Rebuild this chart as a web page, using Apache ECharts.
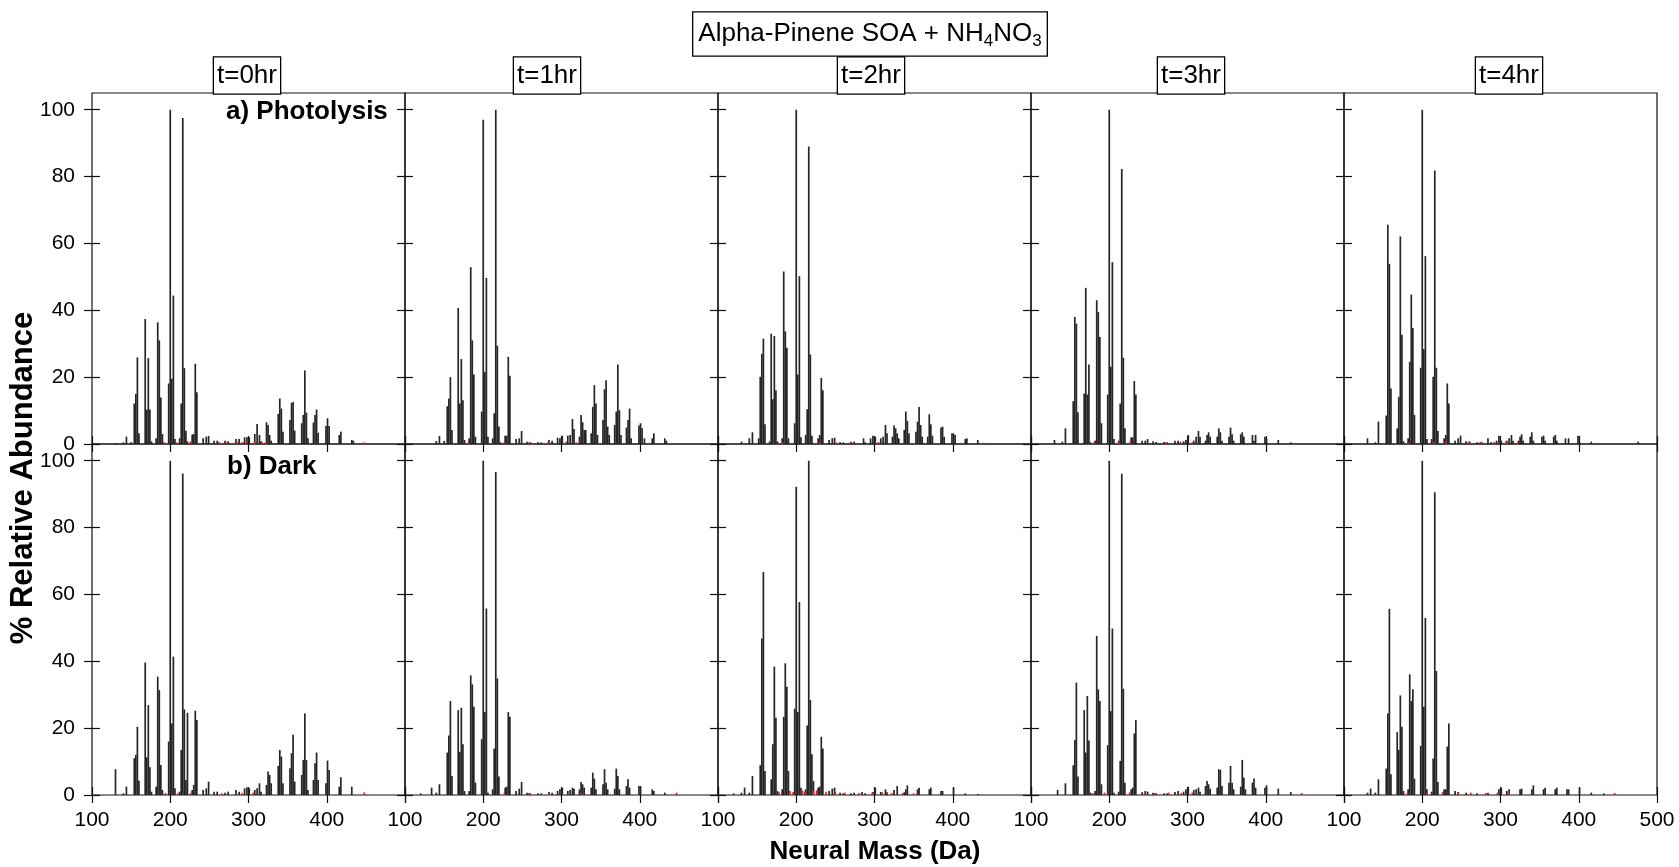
<!DOCTYPE html>
<html><head><meta charset="utf-8">
<script src="https://cdn.jsdelivr.net/npm/echarts@6/dist/echarts.min.js"></script>
<style>html,body{margin:0;padding:0;background:#fff}#c{width:1679px;height:867px}</style>
</head><body><div id="c"></div>
<script>
// ---------------- DATA ----------------
const timeLabels = ['t=0hr', 't=1hr', 't=2hr', 't=3hr', 't=4hr'];
const rowLabels = ['a) Photolysis', 'b) Dark'];
const xTickValues = [100, 200, 300, 400, 500];
const yTickValues = [0, 20, 40, 60, 80, 100];

const photolysis_t0 = [[130,0.3],[140,0.5],[144,2.2],[150,0.5],[154,12.1],[156,15],[158,25.9],[160,3.2],
[168,37.4],[170,10.3],[172,25.7],[174,10.3],[176,0.8],[182,1.7],[184,36.4],[186,31],[188,13.9],[190,3],
[198,18.1],[200,100],[202,19.5],[204,44.4],[206,1.5],[212,1.7],[214,12.1],[216,97.5],[218,22.7],[220,4],[222,0.8],
[228,2.8],[230,3],[232,24],[234,15.5],[242,1.7],[246,2.2],[249,2.4],[256,1],[260,1],[270,1],[274,0.8],[284,1.5],[288,1.5],
[295,2],[298,2],[301,2],[308,3],[311,6],[314,2.7],[316,0.8],[323,6.5],[325,5.7],[327,2.7],[329,1],
[338,9],[340,13.6],[342,10.6],[344,3.7],[353,7.2],[355,12.3],[357,12.6],[359,4],
[368,6.2],[370,8.7],[372,22],[374,9.4],[376,1.7],[383,6.4],[385,8.7],[387,10.3],[389,3.4],
[399,5.4],[401,7.7],[403,5.4],[416,2.7],[418,3.7],[432,1.2],[434,1]];

const photolysis_t1 = [[140,0.9],[144,2.4],[150,0.9],[154,11.3],[156,13.6],[158,20],[160,4.2],
[168,40.7],[170,12.1],[172,25.4],[174,13.1],[176,1.2],[182,1.7],[184,52.9],[186,31],[188,20.8],[190,2.2],
[198,9.7],[200,97],[202,21.6],[204,49.7],[206,2.2],[212,1.7],[214,9.2],[216,100],[218,29.4],[220,5.2],[222,0.5],
[228,2.5],[230,2.5],[232,26.1],[234,20.4],[242,1.5],[246,1.7],[249,3.9],[256,0.7],[260,0.5],[270,0.5],[274,0.5],[284,1.2],[288,1],
[295,1.9],[298,1.7],[301,2.5],[308,2.5],[311,2.7],[314,7.5],[316,4.5],[323,2.2],[325,8.7],[327,6.5],[329,4.2],[331,4.2],
[338,3.2],[340,11.1],[342,17.6],[344,12.1],[346,2.7],[353,7.2],[355,16.4],[357,19.1],[359,5.2],[361,2.7],
[368,5.7],[370,9.7],[372,23.8],[374,10.1],[376,2.7],[383,4.9],[385,7.2],[387,10.6],[389,1.7],
[399,5.5],[401,6.2],[403,4.7],[406,1.7],[416,1.7],[418,3.2],[432,1.7],[434,1]];

const photolysis_t2 = [[130,0.7],[140,1.7],[144,3.5],[152,1.7],[154,20.1],[156,27],[158,31.5],[160,5.9],
[166,0.8],[168,33],[170,13.4],[172,32.3],[174,16.1],[176,0.8],[182,1.7],[184,51.6],[186,33.7],[188,28.8],[190,1.7],
[198,6.2],[200,100],[202,20.8],[204,50.2],[206,2],[212,2.7],[214,10.4],[216,89],[218,26.8],[220,2.5],
[228,1.7],[230,2.7],[232,19.8],[234,16.1],[242,1.2],[246,1.7],[249,1.9],[256,0.5],[260,0.5],[270,0.7],[274,0.7],[286,1.7],[288,0.5],
[295,1.7],[298,2.5],[301,2.2],[308,1.7],[311,2.2],[314,5.7],[316,3.2],[323,2.2],[325,5.5],[327,4.7],[329,3.2],[331,1.7],
[338,4.2],[340,9.7],[342,6.9],[344,3.2],[353,3.7],[355,6.7],[357,11.1],[359,5.7],[361,2.2],
[368,2.2],[370,8.9],[372,5.9],[374,2.5],[385,4.9],[387,5.2],[389,2.2],[399,3.2],[401,3.2],[403,2.7],
[416,1.5],[418,1.7],[432,1.2]];

const photolysis_t3 = [[130,1.2],[140,0.7],[144,4.7],[154,12.8],[156,38],[158,36],[160,9.5],
[168,15.1],[170,46.7],[172,14.8],[174,23.8],[176,0.5],[182,1],[184,43],[186,39.5],[188,32],[190,6.2],
[198,14.8],[200,100],[202,23.1],[204,54.4],[206,1.5],[212,1],[214,12.1],[216,82.3],[218,25.8],[220,4.7],
[228,2],[230,2],[232,18.8],[234,14.8],[242,1],[246,1],[249,1.5],[256,0.8],[260,0.6],[270,0.6],[274,0.5],[284,1],[288,1],
[295,0.8],[298,1.2],[301,2.7],[308,1],[311,2.2],[314,3.9],[316,2.2],[323,1],[325,2.7],[327,3.5],[329,2.2],
[338,2.2],[340,4.7],[342,3.5],[344,1],[353,2.2],[355,4.9],[357,2.9],[359,1],
[368,2.9],[370,3.5],[372,2.2],[383,2.7],[385,1],[387,2.7],[399,2.2],[401,1.5],[416,1.2],[432,0.5]];

const photolysis_t4 = [[130,1.7],[140,0.5],[144,6.7],[154,8.5],[156,65.6],[158,53.9],[160,16.6],
[168,4.7],[170,14.1],[172,62.1],[174,32.7],[176,0.8],[182,1.7],[184,24.6],[186,44.7],[188,34.7],[190,8.7],
[198,22.8],[200,100],[202,28.4],[204,56.2],[206,1.5],[212,1.5],[214,20.1],[216,81.8],[218,22.8],[220,3.9],
[228,1.7],[230,2.7],[232,18.1],[234,12.1],[242,1],[246,1.7],[249,2.5],[256,0.8],[260,0.8],[270,0.5],[274,0.5],[284,1.7],[288,0.5],
[295,1],[298,2.5],[301,1],[308,1],[311,1.7],[314,2.7],[316,1],[323,1],[325,2.2],[327,2.9],[329,1],
[338,2.2],[340,3.5],[342,1],[353,2.2],[355,2.5],[357,1],[368,2.2],[370,2.7],[372,1],
[383,1.7],[387,1.7],[399,2.5],[401,0.5],[416,0.7],[476,0.7]];

const dark_t0 = [[130,7.7],[140,0.5],[144,2.5],[154,11],[156,12],[158,20.4],[160,4.3],
[168,39.6],[170,11.3],[172,26.9],[174,8.3],[176,1],[182,2.5],[184,35.4],[186,31.4],[188,9],[190,1.5],
[198,16],[200,100],[202,21.4],[204,41.4],[206,2],[212,1],[214,13.5],[216,96.2],[218,25.6],[220,4.5],[222,24.6],
[228,1.5],[230,3],[232,25.2],[234,22.4],[242,1.5],[246,2],[249,4],[256,1],[260,1],[270,0.7],[274,1],[284,1.5],[288,1],
[295,2],[298,2.3],[301,2],[308,1.5],[311,2],[314,3.5],[316,1],[323,3],[325,7],[327,6],[329,3.5],
[338,8.7],[340,13.5],[342,11.5],[344,3.5],[353,8],[355,12.5],[357,18],[359,4],
[368,6],[370,10.5],[372,24.4],[374,10.5],[376,1.5],[383,4.5],[385,9.5],[387,12.7],[389,4.5],
[399,3.5],[401,10.3],[403,7.5],[416,2.5],[418,5.3],[432,2.5]];

const dark_t1 = [[120,0.5],[134,2.2],[140,0.7],[144,3.2],[154,12.7],[156,17.8],[158,28.1],[160,5.7],
[168,25.4],[170,12.9],[172,26.1],[174,15.2],[176,1.2],[182,1.2],[184,35.8],[186,33.1],[188,26.4],[190,3.7],
[198,16.7],[200,100],[202,24.8],[204,55.8],[206,0.7],[212,1.7],[214,13.9],[216,96.6],[218,34.9],[220,5.5],
[228,2.2],[230,2.5],[232,24.8],[234,23.4],[242,1.2],[246,1.9],[249,3.9],[256,0.7],[260,0.5],[270,0.5],[274,0.5],[284,0.9],[288,0.7],
[295,1.2],[298,1.7],[301,2.2],[308,1.2],[311,1.5],[314,2.2],[316,1.9],[323,1.7],[325,3.9],[327,3.2],[329,2.2],
[338,2.2],[340,6.7],[342,4.9],[344,1.7],[353,3.2],[355,7.7],[357,3.7],[359,1.7],
[368,1.9],[370,7.9],[372,5.7],[374,1.7],[383,2.7],[385,4.7],[387,2.2],[399,2.7],[401,2.7],
[416,1.7],[418,1.2],[432,0.7]];

const dark_t2 = [[120,0.5],[130,0.7],[134,2.2],[140,0.7],[144,5.7],[154,8.9],[156,46.8],[158,66.7],[160,7.2],
[168,4.7],[170,15.2],[172,38.4],[174,23.1],[176,1.2],[182,1.7],[184,23.4],[186,39.4],[188,32.4],[190,7.2],
[198,25.8],[200,92.2],[202,24.8],[204,57.7],[206,2.2],[212,1.7],[214,20.8],[216,100],[218,28.4],[220,12.2],[222,4.2],
[228,2.2],[230,2.5],[232,17.4],[234,13.9],[242,1.2],[246,1.9],[249,2.2],[256,0.7],[260,0.5],[270,0.5],[274,0.7],[284,0.9],[288,0.5],
[298,0.9],[301,2.2],[308,0.9],[314,1.7],[316,0.8],[325,1.5],[329,2.7],[338,0.8],[340,1.7],[342,2.9],
[355,1.7],[357,2.2],[370,1.7],[372,2.2],[385,1.2],[387,1.2],[401,2.2],[416,0.5],[432,0.3]];

const dark_t3 = [[134,1.5],[144,3.5],[154,8.9],[156,16.5],[158,33.6],[160,5.5],
[168,25.4],[170,12.7],[172,29.6],[174,16.3],[176,0.7],[182,1.2],[184,47.6],[186,31.6],[188,28.1],[190,3.2],
[198,14.9],[200,100],[202,25.1],[204,49.8],[206,0.7],[212,1],[214,10.2],[216,96.1],[218,31.8],[220,3.7],
[228,1.7],[230,2.2],[232,18.4],[234,22.4],[242,0.8],[246,1.2],[249,1],[256,0.7],[260,0.5],[270,0.5],[274,0.5],[284,0.9],[288,1.2],
[295,1],[298,1.7],[301,2.5],[308,1.5],[311,1.7],[314,2.2],[316,1],[323,2.7],[325,4.2],[327,3.2],[329,1.9],
[338,2.2],[340,7.7],[342,7.5],[344,2.7],[353,3.7],[355,8.7],[357,3.7],[359,1.7],
[368,2.5],[370,10.5],[372,5.2],[374,1.7],[383,3.7],[385,4.9],[387,2.2],[399,2.2],[401,2.9],[416,1.9],[432,0.9]];

const dark_t4 = [[130,0.7],[134,1.9],[140,0.7],[144,4.7],[154,7.9],[156,24.4],[158,55.7],[160,6.2],
[168,18.8],[170,13.5],[172,29.8],[174,20.4],[176,1.2],[182,1.7],[184,36.1],[186,28.1],[188,31.6],[190,4.9],
[198,14.7],[200,100],[202,26.4],[204,53],[206,1.7],[212,1],[214,10.9],[216,90.6],[218,37.1],[220,3.9],
[228,1.7],[230,1.7],[232,14.5],[234,21.4],[242,1.2],[246,0.9],[256,0.7],[270,0.5],[284,0.7],
[298,1.7],[301,2.2],[308,1.2],[311,1.7],[325,1.7],[327,1.9],[340,1.7],[342,2.9],[355,1.7],[357,2.2],
[370,1.7],[372,2.2],[385,1.7],[387,1.7],[401,2.2],[416,0.7],[432,0.5]];

// small red sticks near the baseline
const red_photolysis_t0 = [[192,0.6],[208,0.5],[226,0.8],[262,0.6],[272,0.5],[285,0.8],[292,0.6],[297,0.7],[308,0.6],[317,0.7],[322,0.5],[448,0.5]];
const red_photolysis_t1 = [[181,0.5],[227,0.6],[258,0.5],[283,0.6],[306,0.7],[319,0.5]];
const red_photolysis_t2 = [[182,0.6],[230,0.6],[251,0.5],[269,0.5],[305,0.6],[440,0.4]];
const red_photolysis_t3 = [[181,0.7],[212,0.6],[227,0.8],[273,0.6],[291,0.7],[306,0.5]];
const red_photolysis_t4 = [[182,0.6],[215,0.7],[230,0.8],[261,0.6],[276,0.7],[292,0.6],[307,0.8],[322,0.5]];
const red_dark_t0 = [[194,0.6],[210,0.5],[226,0.6],[266,0.5],[292,0.6],[306,0.7],[448,0.8]];
const red_dark_t1 = [[227,0.6],[258,0.6],[284,0.5],[326,0.5],[447,0.7]];
const red_dark_t2 = [[178,0.8],[192,1.2],[196,0.9],[208,1.3],[211,1],[222,1.2],[226,1.4],[238,1],[250,0.8],[262,0.7],[280,0.6],[297,0.7],[310,0.8],[322,0.6],[336,0.6],[350,0.5]];
const red_dark_t3 = [[179,0.6],[194,0.7],[226,0.8],[246,0.6],[258,0.6],[276,0.7],[292,0.6],[306,0.7],[446,0.6]];
const red_dark_t4 = [[181,0.7],[206,0.8],[226,0.9],[246,0.6],[262,0.7],[281,0.6],[296,0.7],[311,0.6],[446,0.6]];

// ---------------- LAYOUT ----------------
const FONT = '"Liberation Sans", Arial, Helvetica, sans-serif';
const L0 = 92, PW = 313, TOP = 93, PH = 351;
const panels = [
  [photolysis_t0, photolysis_t1, photolysis_t2, photolysis_t3, photolysis_t4],
  [dark_t0, dark_t1, dark_t2, dark_t3, dark_t4]
];
const reds = [
  [red_photolysis_t0, red_photolysis_t1, red_photolysis_t2, red_photolysis_t3, red_photolysis_t4],
  [red_dark_t0, red_dark_t1, red_dark_t2, red_dark_t3, red_dark_t4]
];
const boxCenters = [247, 547, 871, 1191, 1509];

const grids = [], xAxes = [], yAxes = [], series = [];
const tickStyle = {color: '#111', width: 1.2};
for (let r = 0; r < 2; r++) {
  for (let c = 0; c < 5; c++) {
    const gi = grids.length;
    grids.push({left: L0 + PW * c, top: TOP + PH * r, width: PW, height: PH,
      show: true, borderColor: '#111', borderWidth: 1.2, backgroundColor: 'transparent'});
    const xa = xAxes.length;
    const common = {type: 'value', gridIndex: gi, min: 100, max: 500, interval: 100, position: 'bottom', splitLine: {show: false}};
    xAxes.push(Object.assign({}, common, {
      axisLine: {show: false, onZero: false},
      axisTick: {show: true, inside: false, length: 8, lineStyle: tickStyle},
      axisLabel: {show: r === 1, margin: 15, color: '#000', fontSize: 21, fontFamily: FONT,
        formatter: (v) => (v === 500 && c < 4) ? '' : String(v)}
    }));
    xAxes.push(Object.assign({}, common, {
      axisLine: {show: false, onZero: false},
      axisTick: {show: true, inside: true, length: 8, lineStyle: tickStyle},
      axisLabel: {show: false}
    }));
    const ya = yAxes.length;
    const ycommon = {type: 'value', gridIndex: gi, min: 0, max: 105, interval: 20, position: 'left', splitLine: {show: false}};
    yAxes.push(Object.assign({}, ycommon, {
      axisLine: {show: false, onZero: false},
      axisTick: {show: true, inside: false, length: 8, lineStyle: tickStyle, customValues: yTickValues},
      axisLabel: {show: c === 0, margin: 17, color: '#000', fontSize: 21, fontFamily: FONT, customValues: yTickValues}
    }));
    yAxes.push(Object.assign({}, ycommon, {
      axisLine: {show: false, onZero: false},
      axisTick: {show: true, inside: true, length: 8, lineStyle: tickStyle, customValues: yTickValues},
      axisLabel: {show: false}
    }));
    series.push({type: 'bar', xAxisIndex: xa, yAxisIndex: ya, data: panels[r][c],
      barWidth: 1.7, barGap: '-100%', itemStyle: {color: '#262626'}, silent: true});
    series.push({type: 'bar', xAxisIndex: xa, yAxisIndex: ya, data: reds[r][c],
      barWidth: 1.7, barGap: '-100%', itemStyle: {color: '#e02020'}, silent: true});
  }
}

const graphics = [];
// main title box
graphics.push({type: 'text', x: 870, y: 34, z: 100,
  style: {text: '{m|Alpha-Pinene SOA + NH}{s|4}{m|NO}{s|3}',
    rich: {m: {fontSize: 26, fontFamily: FONT, fill: '#000'},
           s: {fontSize: 17, fontFamily: FONT, fill: '#000', padding: [14, 0, 0, 0]}},
    align: 'center', verticalAlign: 'middle',
    backgroundColor: '#fff', borderColor: '#000', borderWidth: 1.3, padding: [6, 5, 6, 5]}});
timeLabels.forEach((t, i) => {
  graphics.push({type: 'text', x: boxCenters[i], y: 75.5, z: 100,
    style: {text: t, font: '26px ' + FONT, fill: '#000', align: 'center', verticalAlign: 'middle',
      backgroundColor: '#fff', borderColor: '#000', borderWidth: 1.3, padding: [5, 3, 5, 3]}});
});
graphics.push({type: 'text', x: 226, y: 112, z: 100,
  style: {text: rowLabels[0], font: 'bold 26px ' + FONT, fill: '#000', align: 'left', verticalAlign: 'middle'}});
graphics.push({type: 'text', x: 227, y: 467, z: 100,
  style: {text: rowLabels[1], font: 'bold 26px ' + FONT, fill: '#000', align: 'left', verticalAlign: 'middle'}});
graphics.push({type: 'text', x: 23, y: 478, rotation: Math.PI / 2, z: 100,
  style: {text: '% Relative Abundance', font: 'bold 31px ' + FONT, fill: '#000', align: 'center', verticalAlign: 'middle'}});
graphics.push({type: 'text', x: 875, y: 852, z: 100,
  style: {text: 'Neural Mass (Da)', font: 'bold 26px ' + FONT, fill: '#000', align: 'center', verticalAlign: 'middle'}});

const chart = echarts.init(document.getElementById('c'), null, {renderer: 'canvas'});
chart.setOption({
  animation: false,
  backgroundColor: '#fff',
  grid: grids, xAxis: xAxes, yAxis: yAxes, series: series,
  graphic: graphics
});
</script></body></html>
